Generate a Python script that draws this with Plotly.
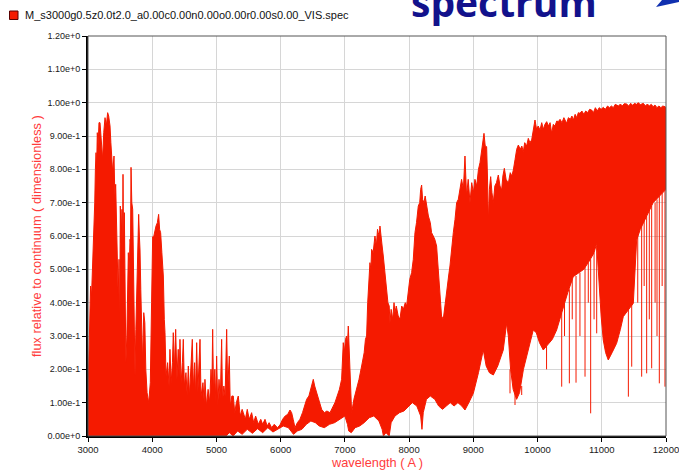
import plotly.graph_objects as go

# ---------------- data ----------------
wl_up = [3000, 3008, 3020, 3040, 3055, 3073, 3090, 3105, 3115, 3125, 3135, 3145, 3158, 3171, 3187, 3200,
         3213, 3228, 3245, 3265, 3285, 3306, 3322, 3343, 3356, 3369, 3385, 3405, 3418, 3431, 3444, 3457,
         3470, 3483, 3493, 3503, 3516, 3529, 3537, 3545, 3555, 3566, 3578, 3590, 3605, 3617, 3628, 3641,
         3654, 3662, 3670, 3682, 3696, 3708, 3720, 3732, 3745, 3760, 3775, 3789, 3800, 3810, 3822, 3836,
         3850, 3868, 3885, 3900, 3920, 3945, 3970, 3990, 4007, 4023, 4040, 4059, 4080, 4100, 4115, 4131,
         4150, 4173, 4188, 4199, 4215, 4240, 4262, 4276, 4295, 4315, 4328, 4345, 4365, 4385, 4405, 4420,
         4432, 4450, 4470, 4484, 4500, 4525, 4545, 4562, 4580, 4600, 4624, 4640, 4660, 4675, 4692, 4710,
         4730, 4744, 4760, 4790, 4810, 4821, 4845, 4870, 4895, 4915, 4930, 4941, 4955, 4975, 4990, 5003,
         5020, 5040, 5060, 5081, 5095, 5115, 5135, 5159, 5175, 5200, 5215, 5240, 5262, 5285, 5310, 5340,
         5370, 5400, 5418, 5450, 5480, 5510, 5548, 5580, 5610, 5652, 5690, 5720, 5756, 5790, 5820, 5860,
         5900, 5950, 5989, 6030, 6070, 6110, 6145, 6171, 6195, 6223, 6260, 6300, 6340, 6375, 6404, 6440,
         6470, 6490, 6508, 6530, 6560, 6600, 6638, 6680, 6720, 6768, 6810, 6845, 6880, 6915, 6949, 6962,
         6975, 6990, 7010, 7027, 7040, 7053, 7066, 7079, 7092, 7105, 7140, 7183, 7220, 7261, 7300, 7320,
         7338, 7355, 7375, 7390, 7405, 7416, 7440, 7468, 7490, 7508, 7520, 7535, 7546, 7565, 7580, 7598,
         7620, 7650, 7670, 7690, 7702, 7720, 7745, 7765, 7780, 7800, 7830, 7857, 7885, 7910, 7940, 7961,
         7985, 8010, 8039, 8065, 8091, 8115, 8143, 8165, 8180, 8195, 8210, 8230, 8250, 8273, 8300, 8330,
         8350, 8376, 8400, 8428, 8450, 8480, 8505, 8532, 8560, 8590, 8615, 8636, 8660, 8688, 8715, 8740,
         8766, 8790, 8817, 8845, 8870, 8895, 8920, 8948, 8975, 9000, 9025, 9052, 9080, 9104, 9130, 9150,
         9166, 9185, 9207, 9220, 9233, 9250, 9270, 9290, 9311, 9335, 9360, 9389, 9415, 9441, 9460, 9483,
         9510, 9545, 9575, 9600, 9623, 9650, 9675, 9701, 9730, 9755, 9778, 9800, 9830, 9856, 9880, 9908,
         9935, 9960, 9985, 10010, 10038, 10065, 10090, 10115, 10142, 10170, 10195, 10220, 10245, 10270,
         10300, 10323, 10350, 10380, 10410, 10430, 10453, 10480, 10510, 10535, 10557, 10585, 10610, 10635,
         10660, 10690, 10720, 10750, 10780, 10810, 10842, 10870, 10900, 10930, 10960, 10990, 11024, 11055,
         11090, 11120, 11150, 11180, 11210, 11232, 11260, 11290, 11320, 11350, 11387, 11420, 11450, 11480,
         11510, 11540, 11570, 11600, 11647, 11680, 11710, 11740, 11770, 11800, 11828, 11860, 11890, 11920,
         11950, 11984, 12000]
flux_up = [0.12, 0.20, 0.30, 0.45, 0.42, 0.505, 0.62, 0.70, 0.80, 0.85, 0.81, 0.91, 0.87, 0.94, 0.94, 0.90,
           0.89, 0.83, 0.91, 0.955, 0.93, 0.97, 0.96, 0.93, 0.88, 0.85, 0.79, 0.84, 0.72, 0.755, 0.60, 0.53,
           0.42, 0.53, 0.30, 0.69, 0.58, 0.68, 0.48, 0.785, 0.52, 0.67, 0.40, 0.22, 0.30, 0.45, 0.55, 0.49,
           0.59, 0.58, 0.806, 0.70, 0.68, 0.50, 0.30, 0.18, 0.32, 0.45, 0.50, 0.665, 0.60, 0.558, 0.44, 0.28,
           0.22, 0.37, 0.34, 0.20, 0.13, 0.10, 0.16, 0.40, 0.598, 0.598, 0.62, 0.63, 0.64, 0.665, 0.62, 0.61,
           0.55, 0.48, 0.35, 0.31, 0.18, 0.22, 0.15, 0.26, 0.16, 0.22, 0.31, 0.20, 0.32, 0.17, 0.26, 0.18,
           0.29, 0.16, 0.22, 0.29, 0.15, 0.19, 0.12, 0.21, 0.12, 0.20, 0.29, 0.14, 0.22, 0.12, 0.28, 0.13,
           0.20, 0.29, 0.12, 0.16, 0.10, 0.17, 0.09, 0.14, 0.10, 0.20, 0.15, 0.32, 0.13, 0.20, 0.10, 0.24,
           0.09, 0.17, 0.11, 0.29, 0.10, 0.15, 0.12, 0.32, 0.14, 0.24, 0.09, 0.12, 0.12, 0.07, 0.10, 0.12,
           0.06, 0.08, 0.07, 0.05, 0.08, 0.05, 0.07, 0.04, 0.06, 0.035, 0.05, 0.035, 0.05, 0.03, 0.04, 0.025,
           0.035, 0.025, 0.033, 0.05, 0.06, 0.065, 0.078, 0.07, 0.05, 0.025, 0.04, 0.05, 0.07, 0.09, 0.11, 0.12,
           0.14, 0.15, 0.17, 0.15, 0.13, 0.10, 0.08, 0.07, 0.075, 0.07, 0.085, 0.10, 0.12, 0.14, 0.17, 0.24,
           0.28, 0.25, 0.29, 0.30, 0.27, 0.33, 0.25, 0.17, 0.10, 0.07, 0.11, 0.14, 0.17, 0.21, 0.25, 0.29,
           0.30, 0.40, 0.47, 0.52, 0.50, 0.56, 0.55, 0.60, 0.57, 0.62, 0.61, 0.60, 0.63, 0.58, 0.57, 0.54,
           0.50, 0.45, 0.40, 0.39, 0.34, 0.38, 0.35, 0.40, 0.37, 0.39, 0.36, 0.35, 0.39, 0.38, 0.40, 0.39,
           0.44, 0.47, 0.49, 0.53, 0.61, 0.64, 0.69, 0.70, 0.74, 0.753, 0.71, 0.70, 0.72, 0.69, 0.66, 0.64,
           0.61, 0.60, 0.59, 0.57, 0.50, 0.42, 0.36, 0.35, 0.40, 0.44, 0.48, 0.51, 0.56, 0.61, 0.65, 0.70,
           0.71, 0.74, 0.77, 0.74, 0.84, 0.72, 0.77, 0.70, 0.76, 0.73, 0.77, 0.75, 0.80, 0.82, 0.86, 0.88,
           0.908, 0.87, 0.868, 0.78, 0.64, 0.74, 0.778, 0.73, 0.70, 0.75, 0.76, 0.783, 0.75, 0.738, 0.78, 0.803,
           0.77, 0.758, 0.79, 0.78, 0.798, 0.83, 0.86, 0.873, 0.86, 0.87, 0.853, 0.88, 0.87, 0.893, 0.88, 0.888,
           0.92, 0.948, 0.92, 0.93, 0.918, 0.94, 0.92, 0.935, 0.943, 0.93, 0.94, 0.908, 0.935, 0.93,
           0.945, 0.943, 0.95, 0.94, 0.955, 0.945, 0.938, 0.955, 0.95, 0.96, 0.948, 0.965, 0.955, 0.97,
           0.968, 0.975, 0.965, 0.975, 0.97, 0.98, 0.978, 0.97, 0.985, 0.975, 0.985, 0.98, 0.986, 0.98,
           0.99, 0.985, 0.99, 0.985, 0.995, 0.993, 0.99, 0.996, 0.99, 0.997, 0.996, 0.99, 0.998, 0.992,
           0.998, 0.995, 1.0, 0.994, 0.998, 0.99, 0.996, 0.99, 0.995, 0.988, 0.993, 0.985, 0.99, 0.985,
           0.99, 0.988, 0.985]

wl_lo = [3000, 5150, 5200, 5260, 5330, 5400, 5480, 5560, 5640, 5720, 5800, 5880, 5960, 6040, 6120, 6200,
         6260, 6330, 6400, 6470, 6540, 6600, 6680, 6760, 6840, 6920, 7000, 7040, 7060, 7100, 7160, 7230,
         7300, 7380, 7450, 7530, 7580, 7600, 7640, 7690, 7720, 7780, 7850, 7920, 7980, 8050, 8120, 8180,
         8200, 8220, 8270, 8330, 8400, 8460, 8520, 8580, 8640, 8700, 8760, 8820, 8870, 8930, 9000, 9080,
         9155, 9200, 9250, 9311, 9380, 9430, 9466, 9518, 9545, 9580, 9620, 9674, 9720, 9780, 9829, 9880,
         9933, 9980, 10030, 10089, 10150, 10230, 10297, 10350, 10401, 10470, 10556, 10640, 10720, 10816,
         10880, 10920, 10950, 10990, 11023, 11060, 11101, 11160, 11231, 11290, 11335, 11420, 11491, 11520,
         11543, 11600, 11700, 11800, 11900, 12000]
flux_lo = [0.0, 0.0, 0.01, 0.0, 0.015, 0.005, 0.02, 0.008, 0.022, 0.01, 0.025, 0.012, 0.02, 0.03, 0.025, 0.005,
           0.015, 0.02, 0.035, 0.045, 0.04, 0.03, 0.025, 0.035, 0.04, 0.05, 0.06, 0.035, 0.015, 0.01, 0.025, 0.03,
           0.04, 0.055, 0.06, 0.045, 0.02, 0.0, 0.01, 0.0, 0.04, 0.06, 0.07, 0.075, 0.085, 0.10, 0.09, 0.06,
           0.02, 0.07, 0.11, 0.12, 0.11, 0.09, 0.08, 0.09, 0.10, 0.09, 0.10, 0.09, 0.078, 0.10, 0.128, 0.19,
           0.258, 0.21, 0.19, 0.183, 0.21, 0.24, 0.258, 0.338, 0.30, 0.20, 0.14, 0.11, 0.13, 0.20, 0.238, 0.28,
           0.318, 0.31, 0.28, 0.258, 0.27, 0.29, 0.318, 0.35, 0.388, 0.43, 0.478, 0.49, 0.50, 0.528,
           0.55, 0.578, 0.50, 0.36, 0.288, 0.25, 0.228, 0.25, 0.278, 0.32, 0.358, 0.38, 0.398, 0.48,
           0.588, 0.62, 0.66, 0.70, 0.72, 0.74]

# narrow absorption lines reaching below the solid band: wavelength, top, bottom
line_wl = [9571, 9649, 9753, 10140, 10376, 10420, 10495, 10540, 10599, 10660, 10739, 10790, 10827, 10880,
           10921, 11414, 11466, 11560, 11621, 11660, 11699, 11740, 11777, 11830, 11860, 11896, 11940, 11984]
line_top = [0.20, 0.14, 0.15, 0.27, 0.37, 0.40, 0.44, 0.47, 0.48, 0.49, 0.51, 0.52, 0.53, 0.55,
            0.57, 0.39, 0.40, 0.62, 0.64, 0.65, 0.66, 0.68, 0.69, 0.70, 0.71, 0.72, 0.73, 0.74]
line_bot = [0.128, 0.093, 0.123, 0.20, 0.148, 0.30, 0.158, 0.35, 0.16, 0.30, 0.178, 0.40, 0.068, 0.35,
            0.308, 0.118, 0.208, 0.40, 0.178, 0.45, 0.188, 0.35, 0.203, 0.40, 0.30, 0.158, 0.45, 0.148]

x_ticks = [3000, 4000, 5000, 6000, 7000, 8000, 9000, 10000, 11000, 12000]
x_tick_labels = ["3000", "4000", "5000", "6000", "7000", "8000", "9000", "10000", "11000", "12000"]
y_ticks = [0.0, 0.1, 0.2, 0.3, 0.4, 0.5, 0.6, 0.7, 0.8, 0.9, 1.0, 1.1, 1.2]
y_tick_labels = ["0.00e+0", "1.00e-1", "2.00e-1", "3.00e-1", "4.00e-1", "5.00e-1", "6.00e-1",
                 "7.00e-1", "8.00e-1", "9.00e-1", "1.00e+0", "1.10e+0", "1.20e+0"]

series_name = "M_s3000g0.5z0.0t2.0_a0.00c0.00n0.00o0.00r0.00s0.00_VIS.spec"
RED = "#f51a00"

# ---------------- figure ----------------
W, H = 679, 472
PL, PT, PR, PB = 88, 36, 666, 436          # plot box in window pixels
L, T, R, B = PL, PT, W - PR, H - PB
PW, PH = PR - PL, PB - PT


def px(x):
    return (x - PL) / PW


def py(y):
    return (PB - y) / PH


poly_x = wl_up + wl_lo[::-1]
poly_y = flux_up + flux_lo[::-1]

fig = go.Figure()
fig.add_trace(go.Scatter(x=poly_x, y=poly_y, mode="lines", fill="toself",
                         fillcolor=RED, line=dict(color=RED, width=1),
                         name=series_name, showlegend=False, hoverinfo="skip"))

lx, ly = [], []
for w, t, b in zip(line_wl, line_top, line_bot):
    lx += [w, w, None]
    ly += [t, b, None]
fig.add_trace(go.Scatter(x=lx, y=ly, mode="lines", line=dict(color=RED, width=1),
                         showlegend=False, hoverinfo="skip"))

FONT = "Liberation Sans, Arial, sans-serif"

fig.update_layout(
    width=W, height=H,
    margin=dict(l=L, r=R, t=T, b=B, pad=0, autoexpand=False),
    paper_bgcolor="white", plot_bgcolor="white",
    showlegend=False,
    xaxis=dict(range=[3000, 12000], tickvals=x_ticks, ticktext=x_tick_labels, ticks="outside",
               ticklen=4, tickcolor="black", showline=True, linecolor="black", linewidth=2,
               showgrid=True, gridcolor="#d6d6d6", gridwidth=1, zeroline=False, automargin=False,
               ticklabeloverflow="allow",
               tickfont=dict(family=FONT, size=9.5, color="#1a1a1a")),
    yaxis=dict(range=[0, 1.2], tickvals=y_ticks, ticktext=y_tick_labels, ticks="outside",
               ticklen=4, tickcolor="black", showline=True, linecolor="black", linewidth=2,
               showgrid=True, gridcolor="#d6d6d6", gridwidth=1, zeroline=False, automargin=False,
               ticklabeloverflow="allow",
               tickfont=dict(family=FONT, size=9, color="#1a1a1a")),
)

# frame (top / right border)
fig.add_shape(type="rect", xref="paper", yref="paper", x0=0, x1=1, y0=0, y1=1,
              line=dict(color="#555555", width=1), layer="above")

# legend square + label
fig.add_shape(type="rect", xref="paper", yref="paper",
              x0=px(9.5), x1=px(18), y0=py(19.5), y1=py(11),
              fillcolor=RED, line=dict(color="#5a0000", width=1))
fig.add_annotation(text=series_name, xref="paper", yref="paper", x=px(22.5), y=py(15),
                   xanchor="left", yanchor="middle", showarrow=False,
                   font=dict(family=FONT, size=11, color="#111111"))

# axis titles
fig.add_annotation(text="flux relative to continuum ( dimensionless )", xref="paper", yref="paper",
                   x=px(36), y=0.5, textangle=-90, xanchor="center", yanchor="middle",
                   showarrow=False, font=dict(family=FONT, size=12.8, color="#ff3c3c"))
fig.add_annotation(text="wavelength ( A )", xref="paper", yref="paper",
                   x=0.5, y=py(463), xanchor="center", yanchor="middle", showarrow=False,
                   font=dict(family=FONT, size=12.8, color="#ff3c3c"))

# cropped slide title fragment (cut by the top edge, as in the reference)
fig.add_annotation(text="<b>spectrum</b>", xref="paper", yref="paper",
                   x=px(409), y=py(1), xanchor="left", yanchor="middle", showarrow=False,
                   font=dict(family="Open Sans, sans-serif", size=39, color="#12128c"))
# small blue arrow fragment in the corner
fig.add_shape(type="path", xref="paper", yref="paper",
              path=f"M {px(656)} {py(7)} L {px(662)} {py(0)} L {px(679)} {py(0)} L {px(679)} {py(2)} Z",
              fillcolor="#1030b0", line=dict(color="#1030b0", width=0))

# remove the default 8px page margin so the figure sits at the window's corner
fig.write_html("out.html", config={"displayModeBar": False},
               post_script="document.body.style.margin='0px';")
